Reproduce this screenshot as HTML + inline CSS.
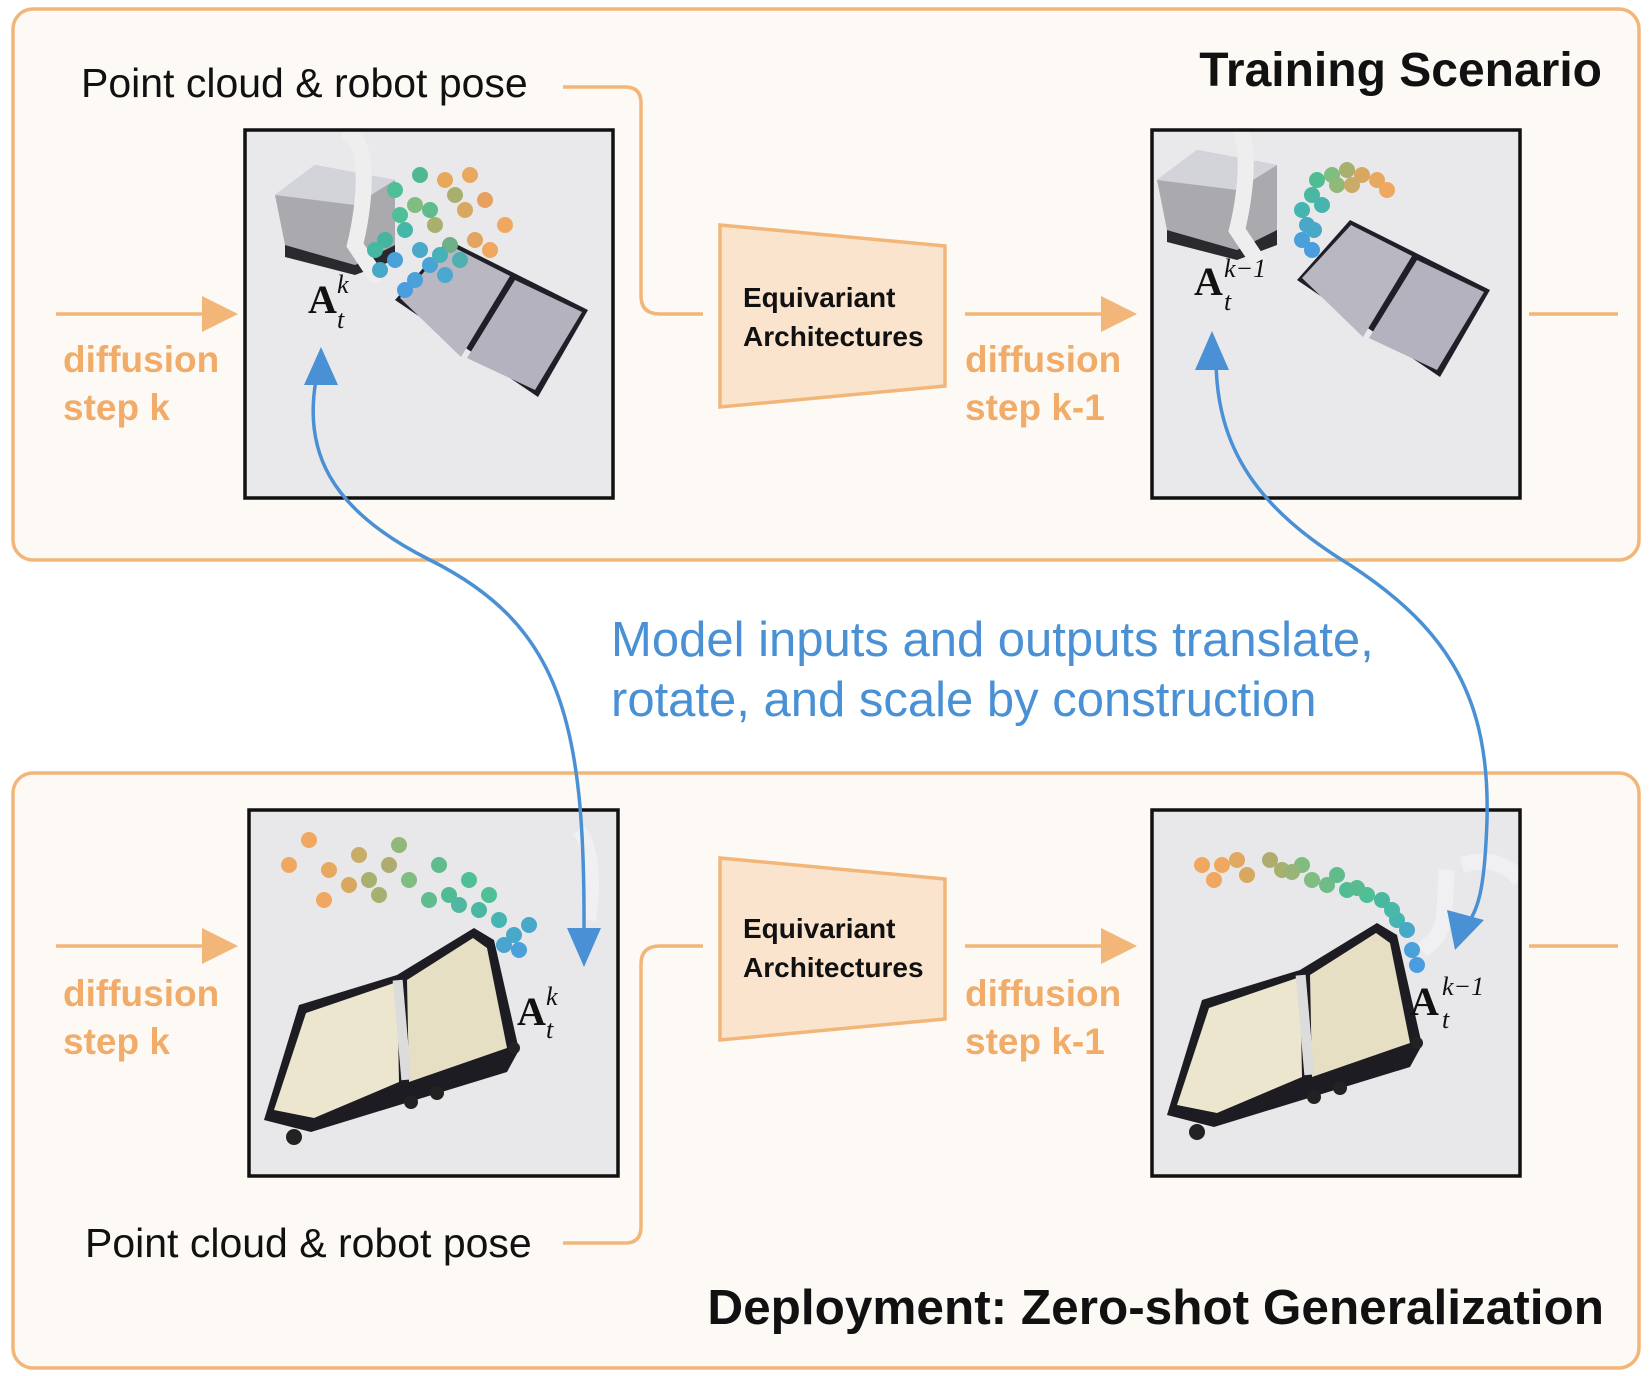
<!DOCTYPE html>
<html><head><meta charset="utf-8"><style>
html,body{margin:0;padding:0;background:#fff;}
svg{display:block;}
.lbl{font-family:"Liberation Sans",sans-serif;}
circle{}
.d circle{r:8px;}
</style></head><body>
<svg width="1650" height="1376" viewBox="0 0 1650 1376" xmlns="http://www.w3.org/2000/svg">
<defs>
<g id="suitOpen">
  <polygon points="15,310 50,195 148,165 225,118 245,130 270,240 258,262 160,292 62,322" fill="#1c1c22"/>
  <polygon points="25,300 57,203 148,172 150,272 65,308" fill="#ece6cf"/>
  <polygon points="158,170 224,128 238,138 258,238 160,272" fill="#e6dfc4"/>
  <rect x="148" y="170" width="10" height="100" fill="#dcdcdc" transform="rotate(-5 153 220)"/>
  <circle cx="45" cy="327" r="8" fill="#222"/><circle cx="162" cy="292" r="7" fill="#222"/><circle cx="188" cy="283" r="7" fill="#222"/><circle cx="265" cy="238" r="6" fill="#222"/>
</g>
<g id="suitClosed">
  <polygon points="0,60 53,0 193,70 143,157" fill="#1f1f28"/>
  <polygon points="5,58 54,5 115,36 66,117" fill="#b8b7c2"/>
  <polygon points="72,118 120,40 187,72 140,150" fill="#b3b2be"/>
</g>
<g id="robot">
  <polygon points="0,30 40,0 120,15 120,80 80,100 10,80" fill="#a9a9ae"/>
  <polygon points="0,30 40,0 120,15 80,40" fill="#d3d4da"/>
  <polygon points="10,80 80,100 120,80 120,95 80,110 10,92" fill="#2a2a2e"/>
  <path d="M75,-30 C95,-20 90,40 80,80 L100,110" stroke="#eeeeef" stroke-width="16" fill="none" stroke-linecap="round"/>
</g>
</defs>

<rect x="13" y="9" width="1626" height="551" rx="20" fill="#fdf9f5" stroke="#f2b679" stroke-width="3.5"/>
<rect x="13" y="773" width="1626" height="595" rx="20" fill="#fdf9f5" stroke="#f2b679" stroke-width="3.5"/>

<text x="1602" y="86" text-anchor="end" class="lbl" font-size="48" font-weight="bold" fill="#111">Training Scenario</text>
<text x="1604" y="1324" text-anchor="end" class="lbl" font-size="49.5" font-weight="bold" fill="#111">Deployment: Zero-shot Generalization</text>

<text x="81" y="97" class="lbl" font-size="41" fill="#111">Point cloud &amp; robot pose</text>
<text x="85" y="1257" class="lbl" font-size="41" fill="#111">Point cloud &amp; robot pose</text>

<g stroke="#f2b679" stroke-width="3.5" fill="none">
<path d="M563,87 H625 Q641,87 641,103 V296 Q641,314 660,314 H703"/>
<path d="M563,1243 H625 Q641,1243 641,1227 V964 Q641,946 660,946 H703"/>
<line x1="56" y1="314" x2="206" y2="314"/>
<line x1="965" y1="314" x2="1105" y2="314"/>
<line x1="1529" y1="314" x2="1618" y2="314"/>
<line x1="56" y1="946" x2="206" y2="946"/>
<line x1="965" y1="946" x2="1105" y2="946"/>
<line x1="1529" y1="946" x2="1618" y2="946"/>
</g>
<g fill="#f2b679">
<polygon points="202,296 238,314 202,332"/>
<polygon points="1101,296 1137,314 1101,332"/>
<polygon points="202,928 238,946 202,964"/>
<polygon points="1101,928 1137,946 1101,964"/>
</g>

<g class="lbl" font-size="37" font-weight="bold" fill="#f0ac68">
<text x="63" y="372">diffusion</text><text x="63" y="420">step k</text>
<text x="965" y="372">diffusion</text><text x="965" y="420">step k-1</text>
<text x="63" y="1006">diffusion</text><text x="63" y="1054">step k</text>
<text x="965" y="1006">diffusion</text><text x="965" y="1054">step k-1</text>
</g>

<polygon points="720,225 945,246 945,386 720,407" fill="#fbe4cd" stroke="#f2b679" stroke-width="3.5"/>
<polygon points="720,858 945,879 945,1019 720,1040" fill="#fbe4cd" stroke="#f2b679" stroke-width="3.5"/>
<g class="lbl" font-size="28" font-weight="bold" fill="#111">
<text x="743" y="307">Equivariant</text><text x="743" y="346">Architectures</text>
<text x="743" y="938">Equivariant</text><text x="743" y="977">Architectures</text>
</g>

<svg x="245" y="130" width="368" height="368" viewBox="0 0 368 368">
<rect width="368" height="368" fill="#e9e9ec"/>
<use href="#robot" x="30" y="35"/>
<use href="#suitClosed" x="150" y="110"/>
<g class="d">
<circle cx="150" cy="60" r="8" fill="#4fbf98"/><circle cx="170" cy="75" r="8" fill="#7fbd80"/><circle cx="200" cy="50" r="8" fill="#e8a85c"/><circle cx="220" cy="80" r="8" fill="#d8a860"/><circle cx="240" cy="70" r="8" fill="#e8a060"/><circle cx="190" cy="95" r="8" fill="#a8b070"/><circle cx="160" cy="100" r="8" fill="#44b7a8"/><circle cx="140" cy="110" r="8" fill="#45b5a0"/><circle cx="175" cy="120" r="8" fill="#4aa8c8"/><circle cx="205" cy="115" r="8" fill="#70b088"/><circle cx="230" cy="110" r="8" fill="#e2a460"/><circle cx="260" cy="95" r="8" fill="#f0a860"/><circle cx="150" cy="130" r="8" fill="#4aa0d8"/><circle cx="185" cy="135" r="8" fill="#48a4d4"/><circle cx="200" cy="145" r="8" fill="#4ca8d0"/><circle cx="170" cy="150" r="8" fill="#4ca0d8"/><circle cx="215" cy="130" r="8" fill="#50b0b0"/><circle cx="130" cy="120" r="8" fill="#44b8a0"/><circle cx="175" cy="45" r="8" fill="#50b890"/><circle cx="225" cy="45" r="8" fill="#e8a860"/><circle cx="155" cy="85" r="8" fill="#4fbf98"/><circle cx="210" cy="65" r="8" fill="#a8b070"/><circle cx="160" cy="160" r="8" fill="#4a9ee0"/><circle cx="245" cy="120" r="8" fill="#f0a860"/><circle cx="135" cy="140" r="8" fill="#48a8c8"/><circle cx="185" cy="80" r="8" fill="#60bc8c"/><circle cx="195" cy="125" r="8" fill="#48b0b8"/>
</g>
<text x="63" y="183" font-family="Liberation Serif,serif" font-size="40" font-weight="bold" fill="#111">A</text>
<text x="92" y="163" font-family="Liberation Serif,serif" font-size="26" font-style="italic" fill="#111">k</text>
<text x="92" y="198" font-family="Liberation Serif,serif" font-size="26" font-style="italic" fill="#111">t</text>
</svg>
<rect x="245" y="130" width="368" height="368" fill="none" stroke="#111" stroke-width="3.5"/>

<svg x="1152" y="130" width="368" height="368" viewBox="0 0 368 368">
<rect width="368" height="368" fill="#e9e9ec"/>
<use href="#robot" x="5" y="20"/>
<use href="#suitClosed" x="145" y="90"/>
<g>
<circle cx="165" cy="50" r="8" fill="#50bc94"/><circle cx="180" cy="45" r="8" fill="#7fbd80"/><circle cx="195" cy="40" r="8" fill="#a8b070"/><circle cx="210" cy="45" r="8" fill="#d8a860"/><circle cx="225" cy="50" r="8" fill="#e8a860"/><circle cx="235" cy="60" r="8" fill="#f0a860"/><circle cx="160" cy="65" r="8" fill="#48b8a0"/><circle cx="150" cy="80" r="8" fill="#46b4b0"/><circle cx="155" cy="95" r="8" fill="#48a8c8"/><circle cx="150" cy="110" r="8" fill="#4aa0d8"/><circle cx="160" cy="120" r="8" fill="#4a9ee0"/><circle cx="185" cy="55" r="8" fill="#90b878"/><circle cx="170" cy="75" r="8" fill="#48b4b0"/><circle cx="200" cy="55" r="8" fill="#c8ac68"/><circle cx="162" cy="100" r="8" fill="#48a8c8"/>
</g>
<text x="42" y="165" font-family="Liberation Serif,serif" font-size="40" font-weight="bold" fill="#111">A</text>
<text x="72" y="147" font-family="Liberation Serif,serif" font-size="26" font-style="italic" fill="#111">k−1</text>
<text x="72" y="180" font-family="Liberation Serif,serif" font-size="26" font-style="italic" fill="#111">t</text>
</svg>
<rect x="1152" y="130" width="368" height="368" fill="none" stroke="#111" stroke-width="3.5"/>

<svg x="249" y="810" width="369" height="366" viewBox="0 0 369 366">
<rect width="369" height="366" fill="#e8e8eb"/>
<path d="M330,20 C345,40 345,80 340,110" stroke="#f0f0f2" stroke-width="14" fill="none"/>
<use href="#suitOpen" x="0" y="0"/>
<g>
<circle cx="60" cy="30" r="8" fill="#f0a860"/><circle cx="40" cy="55" r="8" fill="#f0a860"/><circle cx="80" cy="60" r="8" fill="#e8a860"/><circle cx="110" cy="45" r="8" fill="#c8ac68"/><circle cx="120" cy="70" r="8" fill="#a8b070"/><circle cx="150" cy="35" r="8" fill="#90b878"/><circle cx="160" cy="70" r="8" fill="#7fbd80"/><circle cx="190" cy="55" r="8" fill="#60bc8c"/><circle cx="200" cy="85" r="8" fill="#50bc94"/><circle cx="220" cy="70" r="8" fill="#4fbf98"/><circle cx="230" cy="100" r="8" fill="#48b8a0"/><circle cx="250" cy="110" r="8" fill="#46b4b0"/><circle cx="265" cy="125" r="8" fill="#48a8c8"/><circle cx="270" cy="140" r="8" fill="#4aa0d8"/><circle cx="255" cy="135" r="8" fill="#4aa4d0"/><circle cx="280" cy="115" r="8" fill="#48a8c8"/><circle cx="75" cy="90" r="8" fill="#f0a860"/><circle cx="100" cy="75" r="8" fill="#d8a860"/><circle cx="140" cy="55" r="8" fill="#b0ac70"/><circle cx="210" cy="95" r="8" fill="#50b8a0"/><circle cx="240" cy="85" r="8" fill="#4fbf98"/><circle cx="180" cy="90" r="8" fill="#60bc8c"/><circle cx="130" cy="85" r="8" fill="#a8b070"/>
</g>
<text x="268" y="215" font-family="Liberation Serif,serif" font-size="40" font-weight="bold" fill="#111">A</text>
<text x="297" y="195" font-family="Liberation Serif,serif" font-size="26" font-style="italic" fill="#111">k</text>
<text x="297" y="228" font-family="Liberation Serif,serif" font-size="26" font-style="italic" fill="#111">t</text>
</svg>
<rect x="249" y="810" width="369" height="366" fill="none" stroke="#111" stroke-width="3.5"/>

<svg x="1152" y="810" width="368" height="366" viewBox="0 0 368 366">
<rect width="368" height="366" fill="#e8e8eb"/>
<path d="M310,55 C345,45 360,60 368,70" stroke="#f0f0f2" stroke-width="16" fill="none"/>
<path d="M295,60 C290,100 300,120 270,140" stroke="#f0f0f2" stroke-width="16" fill="none"/>
<use href="#suitOpen" x="0" y="-5"/>
<g>
<circle cx="50" cy="55" r="8" fill="#f0a860"/><circle cx="62" cy="70" r="8" fill="#f0a860"/><circle cx="85" cy="50" r="8" fill="#e0a860"/><circle cx="95" cy="65" r="8" fill="#d8a860"/><circle cx="118" cy="50" r="8" fill="#b0ac70"/><circle cx="130" cy="60" r="8" fill="#a8b070"/><circle cx="150" cy="55" r="8" fill="#80bc80"/><circle cx="160" cy="70" r="8" fill="#7fbd80"/><circle cx="185" cy="65" r="8" fill="#60bc8c"/><circle cx="195" cy="80" r="8" fill="#50bc94"/><circle cx="215" cy="85" r="8" fill="#4fbf98"/><circle cx="230" cy="90" r="8" fill="#48b8a0"/><circle cx="245" cy="110" r="8" fill="#46b4b0"/><circle cx="255" cy="120" r="8" fill="#48a8c8"/><circle cx="260" cy="140" r="8" fill="#4aa0d8"/><circle cx="265" cy="155" r="8" fill="#4a9ee0"/><circle cx="70" cy="55" r="8" fill="#f0a860"/><circle cx="175" cy="75" r="8" fill="#70bc88"/><circle cx="240" cy="100" r="8" fill="#48b8a8"/><circle cx="140" cy="62" r="8" fill="#98b478"/><circle cx="205" cy="78" r="8" fill="#58bc90"/>
</g>
<text x="258" y="205" font-family="Liberation Serif,serif" font-size="40" font-weight="bold" fill="#111">A</text>
<text x="290" y="185" font-family="Liberation Serif,serif" font-size="26" font-style="italic" fill="#111">k−1</text>
<text x="290" y="218" font-family="Liberation Serif,serif" font-size="26" font-style="italic" fill="#111">t</text>
</svg>
<rect x="1152" y="810" width="368" height="366" fill="none" stroke="#111" stroke-width="3.5"/>

<g stroke="#4a90d4" stroke-width="3.5" fill="none">
<path d="M318,370 C300,450 330,510 430,560 C560,625 585,720 584,930"/>
<path d="M1216,355 C1215,450 1260,510 1350,565 C1450,630 1490,700 1487,820 C1485,880 1480,910 1466,925"/>
</g>
<g fill="#4a90d4">
<polygon points="321,347 304,385 338,385"/>
<polygon points="584,967 567,928 601,928"/>
<polygon points="1212,331 1195,370 1229,370"/>
<polygon points="1455,950 1447,910 1484,920"/>
</g>

<text x="611" y="656" class="lbl" font-size="49" fill="#4a90d4">Model inputs and outputs translate,</text>
<text x="611" y="716" class="lbl" font-size="49" fill="#4a90d4">rotate, and scale by construction</text>
</svg>
</body></html>
